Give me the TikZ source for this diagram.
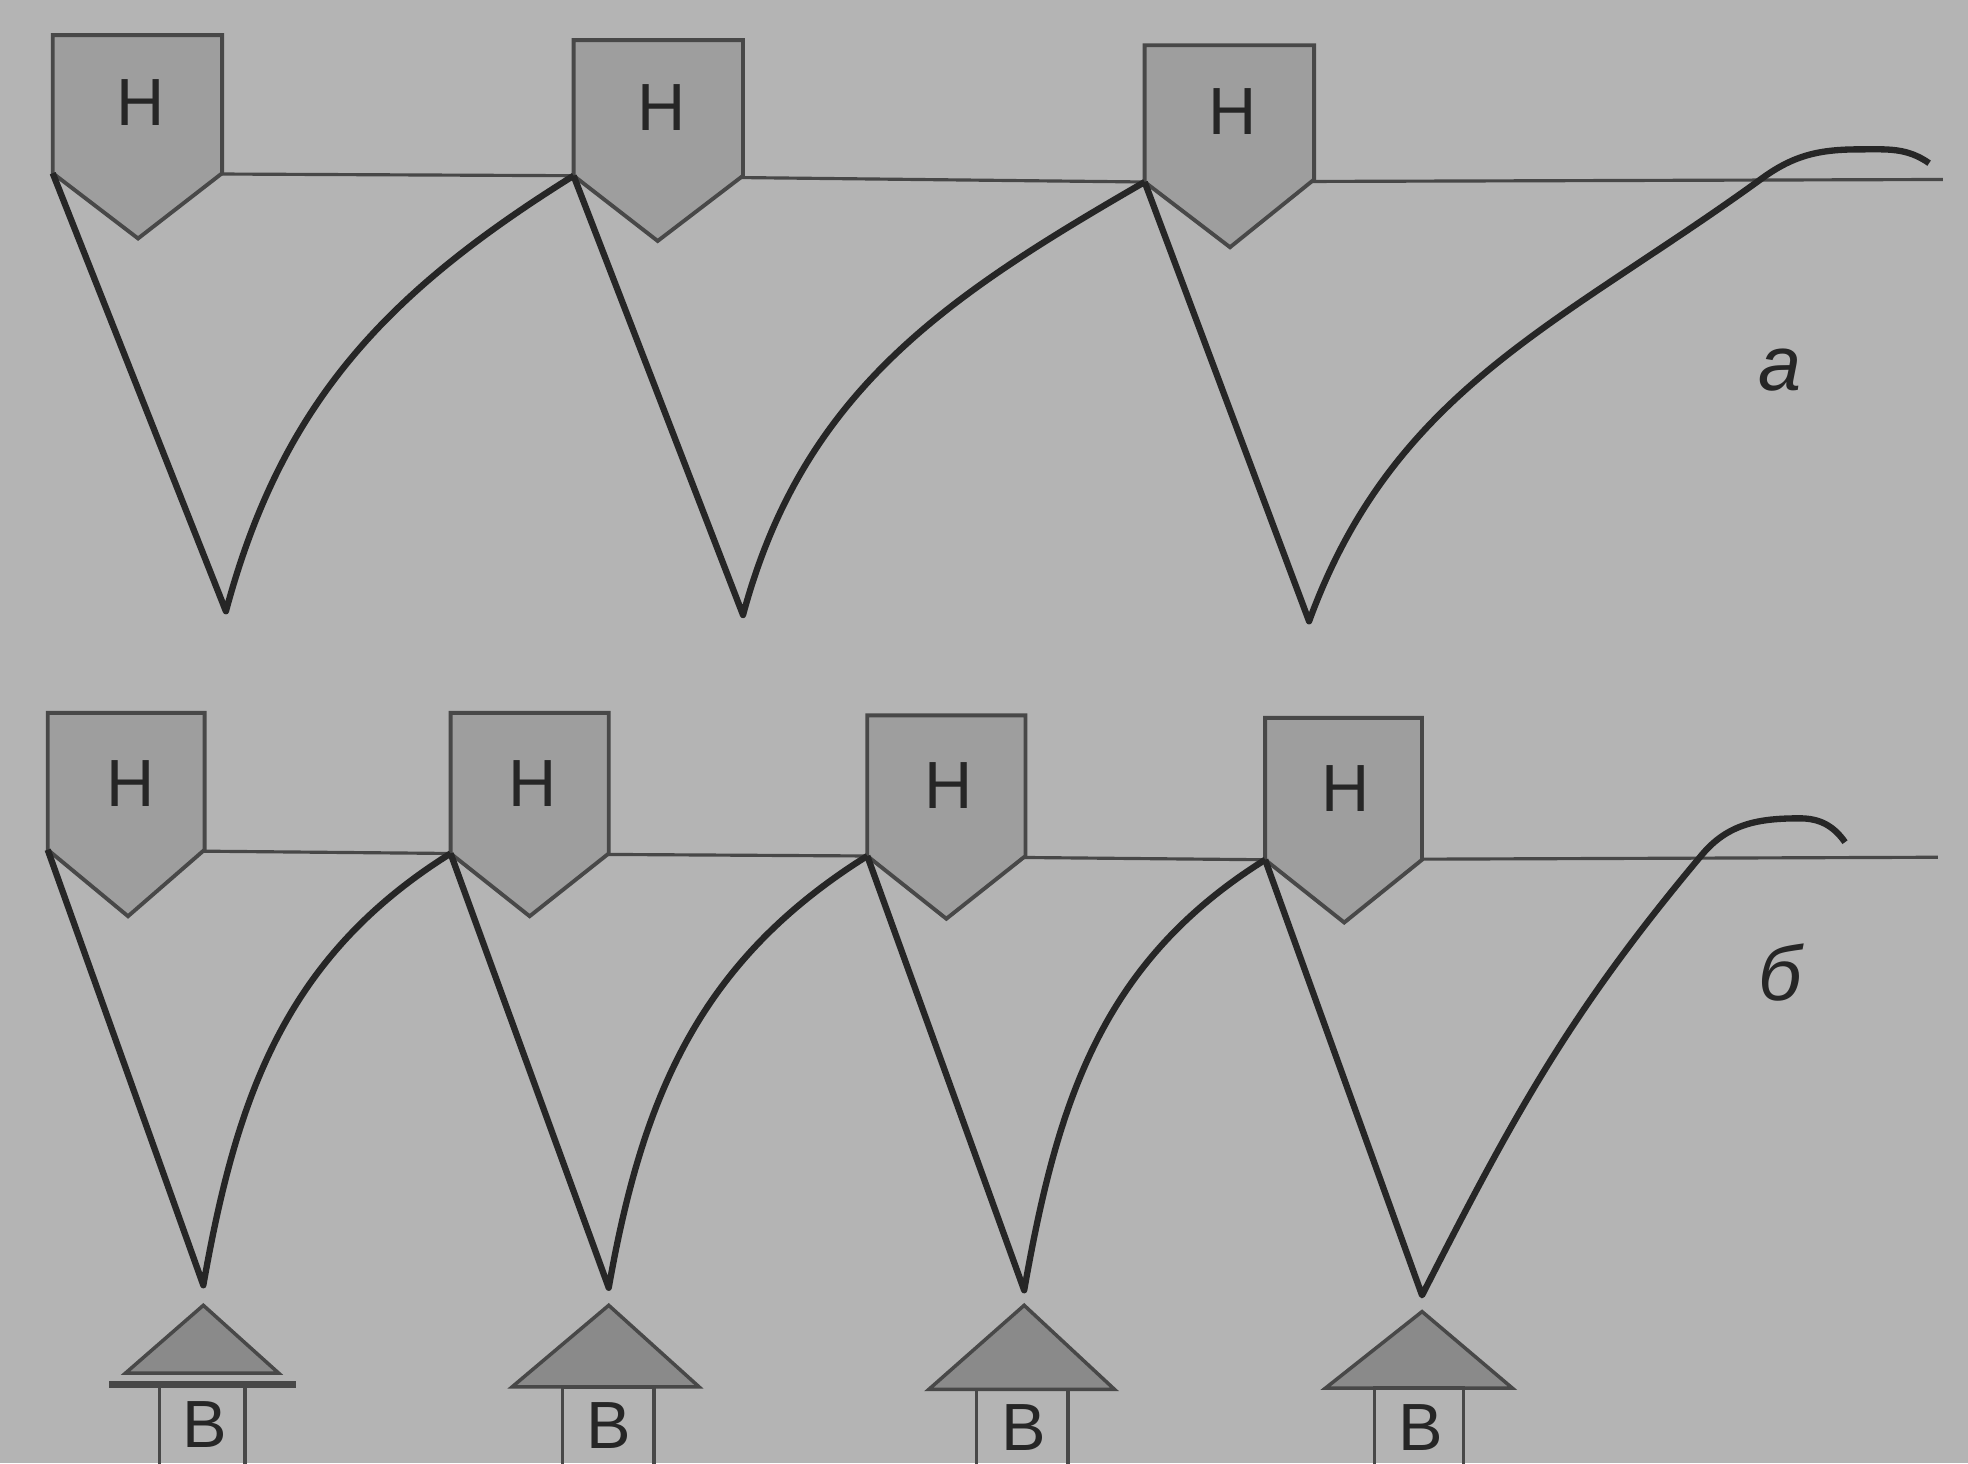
\documentclass[tikz,border=0pt]{standalone}
\usepackage{fontspec}
\setmainfont{Liberation Sans}
\definecolor{bg}{RGB}{180,180,180}
\definecolor{hgray}{RGB}{158,158,158}
\definecolor{tgray}{RGB}{138,138,138}
\definecolor{edge}{RGB}{72,72,72}
\definecolor{ink}{RGB}{38,38,38}
\begin{document}
\begin{tikzpicture}[x=0.012551cm, y=0.012551cm,
  hbox/.style={draw=edge, fill=hgray, line width=1.1pt},
  beam/.style={draw=edge, line width=0.9pt},
  leg/.style={draw=ink, line width=1.8pt, line join=round},
  tri/.style={draw=edge, fill=tgray, line width=1pt},
  bbox/.style={draw=edge, line width=1pt},
  lbl/.style={inner sep=0pt, text=ink, font=\fontsize{19}{21}\selectfont},
  tag/.style={inner sep=0pt, text=ink, font=\fontsize{22}{24}\selectfont\itshape}]
\fill[bg] (0,0) rectangle (1568,1166);
\clip (0,0) rectangle (1568,1166);

% row a
\coordinate (a0) at (42,1028);
\coordinate (a1) at (457,1026);
\coordinate (a2) at (912,1021);
\coordinate (ae) at (1548,1023);
\coordinate (v1) at (180,679);
\coordinate (v2) at (592,676);
\coordinate (v3) at (1043,671);
\coordinate (ax) at (1404,1024);
\coordinate (ap) at (1482,1047);
\coordinate (ac) at (1537,1036);
\draw[beam] (a0) -- (a1) -- (a2) -- (ae);
\filldraw[hbox] (a0) -- (42,1138) -- (177,1138) -- (177,1028) -- (110,976) -- cycle;
\filldraw[hbox] (a1) -- (457,1134) -- (592,1134) -- (592,1026) -- (524,974) -- cycle;
\filldraw[hbox] (a2) -- (912,1130) -- (1047,1130) -- (1047,1023) -- (980,969) -- cycle;
\node[lbl] (h1) at (112,1084) {Н};
\node[lbl] (h2) at (527,1080) {Н};
\node[lbl] (h3) at (982,1077) {Н};
\draw[leg] (a0) -- (v1) to[out=75,in=212] (a1);
\draw[leg] (a1) -- (v2) to[out=75,in=210] (a2);
\draw[leg] (a2) -- (v3) to[out=70,in=216] (ax) to[out=36,in=180] (ap) to[out=0,in=145] (ac);
\node[tag] (ta) at (1418,871) {а};

% row b
\coordinate (b0) at (38,489);
\coordinate (b1) at (359,486);
\coordinate (b2) at (691,484);
\coordinate (b3) at (1008,481);
\coordinate (be) at (1544,483);
\coordinate (w1) at (162,142);
\coordinate (w2) at (485,140);
\coordinate (w3) at (816,138);
\coordinate (w4) at (1133,134);
\coordinate (bx) at (1356,485);
\coordinate (bp) at (1434,514);
\coordinate (bc) at (1470,495);
\draw[beam] (b0) -- (b1) -- (b2) -- (b3) -- (be);
\filldraw[hbox] (b0) -- (38,598) -- (163,598) -- (163,489) -- (102,436) -- cycle;
\filldraw[hbox] (b1) -- (359,598) -- (485,598) -- (485,486) -- (422,436) -- cycle;
\filldraw[hbox] (b2) -- (691,596) -- (817,596) -- (817,484) -- (754,434) -- cycle;
\filldraw[hbox] (b3) -- (1008,594) -- (1133,594) -- (1133,481) -- (1071,431) -- cycle;
\node[lbl] (h4) at (104,542) {Н};
\node[lbl] (h5) at (424,542) {Н};
\node[lbl] (h6) at (756,540) {Н};
\node[lbl] (h7) at (1072,538) {Н};
\draw[leg] (b0) -- (w1) to[out=80,in=212] (b1);
\draw[leg] (b1) -- (w2) to[out=80,in=212] (b2);
\draw[leg] (b2) -- (w3) to[out=80,in=212] (b3);
\draw[leg] (b3) -- (w4) to[out=63,in=230] (bx) to[out=50,in=180] (bp) to[out=0,in=125] (bc);
\node[tag] (tb) at (1418,391) {б};

% supports
\filldraw[tri] (162,126) -- (222,72) -- (100,72) -- cycle;
\filldraw[tri] (485,126) -- (557,61) -- (408,61) -- cycle;
\filldraw[tri] (816,126) -- (888,59) -- (740,59) -- cycle;
\filldraw[tri] (1133,121) -- (1205,60) -- (1056,60) -- cycle;
\draw[edge, line width=2pt] (87,63) -- (236,63);
\draw[bbox] (127,-10) -- (127,62) -- (195,62) -- (195,-10);
\draw[bbox] (448,-10) -- (448,61) -- (521,61) -- (521,-10);
\draw[bbox] (778,-10) -- (778,59) -- (851,59) -- (851,-10);
\draw[bbox] (1095,-10) -- (1095,60) -- (1166,60) -- (1166,-10);
\node[lbl] (g1) at (163,31) {В};
\node[lbl] (g2) at (485,30) {В};
\node[lbl] (g3) at (816,29) {В};
\node[lbl] (g4) at (1132,29) {В};
\end{tikzpicture}
\end{document}
